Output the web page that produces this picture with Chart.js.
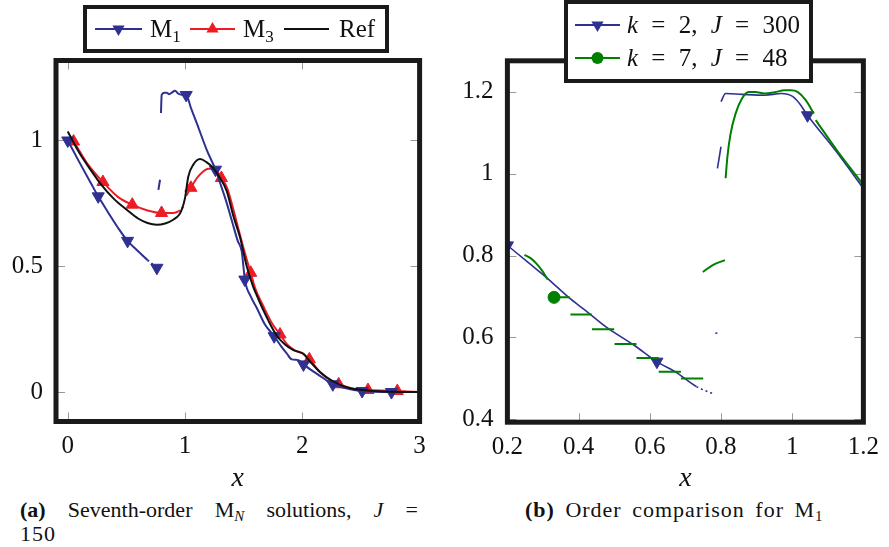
<!DOCTYPE html>
<html><head><meta charset="utf-8">
<script src="https://cdn.jsdelivr.net/npm/chart.js@4.4.1/dist/chart.umd.min.js"></script>
<style>
html,body{margin:0;padding:0;background:#fff;width:889px;height:547px;overflow:hidden;position:relative;font-family:"Liberation Serif",serif;color:#111}
canvas{position:absolute;top:0}
#c1{left:0}
#c2{left:445px}
.box{position:absolute;background:#fff;border:4px solid #1a1a1a;box-sizing:border-box}
.t{position:absolute;font-size:25px;line-height:25px;white-space:nowrap}
.t sub{font-size:17px;vertical-align:-5px;line-height:0}
.cap{position:absolute;font-size:22px;line-height:24px;white-space:nowrap}
.cap sub{font-size:15px;vertical-align:-4px;line-height:0}
svg{position:absolute;left:0;top:0}
</style></head>
<body>
<canvas id="c1" width="440" height="495"></canvas>
<canvas id="c2" width="444" height="495"></canvas>

<div class="box" style="left:83px;top:5px;width:306px;height:48px"></div>
<div class="box" style="left:564px;top:0px;width:249px;height:83px"></div>
<svg width="889" height="100">
  <line x1="95" y1="29" x2="142" y2="29" stroke="#2e3192" stroke-width="2"/>
  <polygon points="118.5,36 112.4,25.5 124.6,25.5" fill="#2e3192"/>
  <line x1="190" y1="29" x2="235" y2="29" stroke="#ed1c24" stroke-width="2"/>
  <polygon points="212.5,22 206.4,32.5 218.6,32.5" fill="#ed1c24"/>
  <line x1="284" y1="29" x2="329" y2="29" stroke="#111" stroke-width="2"/>
  <line x1="575" y1="25" x2="620" y2="25" stroke="#2e3192" stroke-width="2"/>
  <polygon points="597.5,32 591.4,21.5 603.6,21.5" fill="#2e3192"/>
  <line x1="575" y1="58" x2="620" y2="58" stroke="#008000" stroke-width="2"/>
  <circle cx="597.5" cy="58" r="6" fill="#008000"/>
</svg>
<div class="t" style="left:150px;top:16px">M<sub>1</sub></div>
<div class="t" style="left:243px;top:16px">M<sub>3</sub></div>
<div class="t" style="left:339px;top:16px">Ref</div>
<div class="t" style="left:627px;top:12px;word-spacing:7px"><i>k</i> = 2, <i>J</i> = 300</div>
<div class="t" style="left:627px;top:45px;word-spacing:7px"><i>k</i> = 7, <i>J</i> = 48</div>

<div class="cap" style="left:20px;top:498px;width:398px;display:flex;justify-content:space-between">
  <span><b>(a)</b></span><span>Seventh-order</span><span>M<sub><i>N</i></sub></span><span>solutions,</span><span><i>J</i></span><span>=</span>
</div>
<div class="cap" style="left:20px;top:522px;letter-spacing:1px">150</div>
<div class="cap" style="left:525px;top:498px;letter-spacing:1px;word-spacing:4px"><b>(b)</b> Order comparison for M<sub>1</sub></div>

<script>
// ---------- tick labels ----------
const xTicksA = [0, 1, 2, 3];
const yTicksA = [0, 0.5, 1];
const xTicksB = [0.2, 0.4, 0.6, 0.8, 1, 1.2];
const yTicksB = [0.4, 0.6, 0.8, 1, 1.2];

// ---------- (a) Seventh-order M_N solutions ----------
const refX = [0,0.1,0.2,0.275,0.4,0.503,0.6,0.68,0.759,0.83,0.9,0.95,0.972,1.0,1.028,1.071,1.128,1.18,1.241,1.3,1.355,1.412,1.469,1.526,1.58,1.611,1.639,1.71,1.781,1.85,1.92,1.98,2.009,2.06,2.15,2.264,2.4,2.52,2.7,3];
const refY = [1.036,0.95,0.88,0.831,0.765,0.725,0.69,0.672,0.665,0.67,0.685,0.705,0.725,0.771,0.857,0.904,0.926,0.915,0.89,0.85,0.8,0.7,0.615,0.5,0.42,0.385,0.355,0.285,0.225,0.19,0.168,0.158,0.152,0.125,0.08,0.042,0.016,0.008,0.002,0];

const m1X = [0,0.1,0.2,0.26,0.35,0.43,0.51,0.6,0.68,0.76,null,0.773,0.787,null,0.795,0.801,0.822,0.844,0.865,0.887,0.915,0.943,0.97,1.01,1.05,1.1,1.185,1.26,1.3,1.35,1.4,1.45,1.483,1.5,1.51,1.56,1.611,1.68,1.76,1.82,1.867,1.91,1.966,2.01,2.1,2.18,2.26,2.4,2.51,2.76,3];
const m1Y = [1.0,0.913,0.828,0.778,0.71,0.652,0.601,0.56,0.525,0.494,null,0.804,0.844,null,1.109,1.181,1.19,1.19,1.184,1.19,1.198,1.186,1.182,1.181,1.13,1.069,0.963,0.884,0.83,0.76,0.68,0.6,0.56,0.49,0.447,0.38,0.335,0.27,0.222,0.182,0.154,0.13,0.127,0.11,0.08,0.055,0.031,0.012,0.004,0.0,0];
const m1MarkX = [0,0.26,0.51,0.76,1.01,1.26,1.51,1.76,2.01,2.26,2.51,2.76];

const m3X = [0,0.05,0.1,0.18,0.3,0.43,0.55,0.68,0.8,0.9,0.943,0.986,null,1.01,1.05,1.1,1.15,1.2,1.25,1.31,1.36,1.41,1.46,1.5,1.526,1.56,1.6,1.668,1.74,1.81,1.88,1.94,2.0,2.06,2.15,2.23,2.31,2.43,2.56,2.81,3];
const m3Y = [1.012,0.996,0.958,0.9,0.835,0.775,0.745,0.722,0.712,0.712,0.718,0.736,null,0.78,0.812,0.85,0.875,0.888,0.888,0.851,0.81,0.73,0.64,0.57,0.527,0.474,0.41,0.341,0.275,0.229,0.185,0.165,0.155,0.13,0.08,0.05,0.031,0.014,0.008,0.004,0];
const m3MarkX = [0.05,0.3,0.55,0.8,1.05,1.31,1.56,1.81,2.06,2.31,2.56,2.81];

// ---------- (b) Order comparison for M1 ----------
const k2X = [0.2,0.26,0.313,0.372,0.418,0.483,0.556,0.62,0.675,0.731,0.777,null,0.784,0.79,null,0.79,0.8,null,0.8,0.813,0.859,0.923,0.969,1.001,1.02,1.043,1.125,1.2];
const k2Y = [0.825,0.782,0.744,0.698,0.667,0.622,0.581,0.541,0.514,0.48,0.463,null,0.61,0.611,null,1.013,1.066,null,1.176,1.196,1.194,1.192,1.196,1.189,1.172,1.143,1.053,0.964];
const k2MarkX = [0.2,0.62,1.043];

const k7X = [0.248,0.265,0.281,0.297,0.313,null,0.331,0.375,null,0.377,0.437,null,0.4375,0.5,null,0.501,0.5625,null,0.5625,0.625,null,0.625,0.6875,null,0.6875,0.75,null,0.749,0.777,0.811,null,0.813,0.818,0.827,0.841,0.859,0.877,0.896,0.923,0.951,0.978,0.997,1.015,1.038,1.061,null,1.066,1.125,1.19,1.204];
const k7Y = [0.802,0.794,0.781,0.764,0.742,null,0.698,0.698,null,0.656,0.656,null,0.62,0.62,null,0.584,0.584,null,0.55,0.55,null,0.516,0.516,null,0.5,0.5,null,0.76,0.777,0.789,null,0.989,1.041,1.098,1.147,1.184,1.2,1.2,1.196,1.199,1.204,1.204,1.2,1.18,1.147,null,1.131,1.058,0.984,0.968];
const k7MarkX = [0.331];

// ---------- helpers ----------
const FAM = '"Liberation Serif", serif';
const BLUE = '#2e3192', RED = '#ed1c24', BLACK = '#111111', GREEN = '#008000';

function pts(xs, ys) {
  const out = []; let lastX = xs[0];
  for (let i = 0; i < xs.length; i++) {
    if (ys[i] === null || xs[i] === null) out.push({x: lastX, y: null});
    else { out.push({x: xs[i], y: ys[i]}); lastX = xs[i]; }
  }
  return out;
}
function ds(label, xs, ys, color, marks, style, rot, r, w, dotted) {
  const set = new Set(marks);
  const d = {
    label, data: pts(xs, ys), borderColor: color, backgroundColor: color, borderWidth: w,
    cubicInterpolationMode: 'monotone', spanGaps: false,
    pointStyle: style, rotation: rot,
    pointRadius: c => (c.raw && c.raw.y !== null && set.has(c.raw.x)) ? r : 0,
    pointBackgroundColor: color, pointBorderColor: color, pointBorderWidth: 1
  };
  if (dotted) d.segment = {borderDash: c => (c.p0.parsed.x >= dotted[0] && c.p1.parsed.x <= dotted[1]) ? [2, 3] : undefined};
  return d;
}
const fmt = v => String(Math.round(v * 10) / 10);

const framePlugin = {
  id: 'frame',
  beforeDatasetsDraw(chart) {
    const {ctx, chartArea: a, scales: {x, y}} = chart;
    ctx.save(); ctx.strokeStyle = '#9a9a9a'; ctx.lineWidth = 1; const L = 9;
    x.ticks.forEach(t => { const p = Math.round(x.getPixelForValue(t.value)) + 0.5;
      ctx.beginPath(); ctx.moveTo(p, a.bottom); ctx.lineTo(p, a.bottom - L); ctx.moveTo(p, a.top); ctx.lineTo(p, a.top + L); ctx.stroke(); });
    y.ticks.forEach(t => { const p = Math.round(y.getPixelForValue(t.value)) + 0.5;
      ctx.beginPath(); ctx.moveTo(a.left, p); ctx.lineTo(a.left + L, p); ctx.moveTo(a.right, p); ctx.lineTo(a.right - L, p); ctx.stroke(); });
    ctx.restore();
  },
  afterDatasetsDraw(chart) {
    const {ctx, chartArea: a} = chart;
    ctx.save(); ctx.strokeStyle = '#1a1a1a'; ctx.lineWidth = 5;
    ctx.strokeRect(a.left, a.top, a.right - a.left, a.bottom - a.top);
    ctx.restore();
  }
};

function options(xr, yr, xt, yt, pad, yW, xH, yPad, xPad) {
  const tickFont = {family: FAM, size: 25};
  return {
    responsive: false, animation: false, events: [], devicePixelRatio: 1,
    layout: {padding: pad},
    plugins: {legend: {display: false}, tooltip: {enabled: false}},
    scales: {
      x: {type: 'linear', min: xr[0], max: xr[1],
          afterBuildTicks: s => { s.ticks = xt.map(v => ({value: v})); },
          afterFit: s => { s.height = xH; },
          grid: {display: false, drawTicks: false}, border: {display: false},
          ticks: {padding: xPad, font: tickFont, color: '#111', callback: fmt, maxRotation: 0, autoSkip: false},
          title: {display: true, text: 'x', color: '#111', padding: 0, font: {family: FAM, size: 28, style: 'italic'}}},
      y: {type: 'linear', min: yr[0], max: yr[1],
          afterBuildTicks: s => { s.ticks = yt.map(v => ({value: v})); },
          afterFit: s => { s.width = yW; },
          grid: {display: false, drawTicks: false}, border: {display: false},
          ticks: {padding: yPad, font: tickFont, color: '#111', callback: fmt, autoSkip: false}}
    }
  };
}

new Chart(document.getElementById('c1'), {
  type: 'line',
  data: {datasets: [
    ds('Ref', refX, refY, BLACK, [], 'circle', 0, 0, 2),
    ds('M1', m1X, m1Y, BLUE, m1MarkX, 'triangle', 180, 7, 2, [0.64, 0.77]),
    ds('M3', m3X, m3Y, RED, m3MarkX, 'triangle', 0, 7, 2, [0.94, 0.99])
  ]},
  options: options([-0.1, 3], [-0.117, 1.318], xTicksA, yTicksA,
    {left: 0, top: 60.5, right: 20.4, bottom: 0}, 56, 73.5, 13, 10),
  plugins: [framePlugin]
});

new Chart(document.getElementById('c2'), {
  type: 'line',
  data: {datasets: [
    ds('k=7, J=48', k7X, k7Y, GREEN, k7MarkX, 'circle', 0, 6, 2),
    ds('k=2, J=300', k2X, k2Y, BLUE, k2MarkX, 'triangle', 180, 7, 1.6, [0.73, 0.78])
  ]},
  options: options([0.2, 1.2], [0.393, 1.276], xTicksB, yTicksB,
    {left: 0, top: 60.8, right: 18.7, bottom: 0}, 62.4, 72.8, 14, 10),
  plugins: [framePlugin]
});
</script>
</body></html>
